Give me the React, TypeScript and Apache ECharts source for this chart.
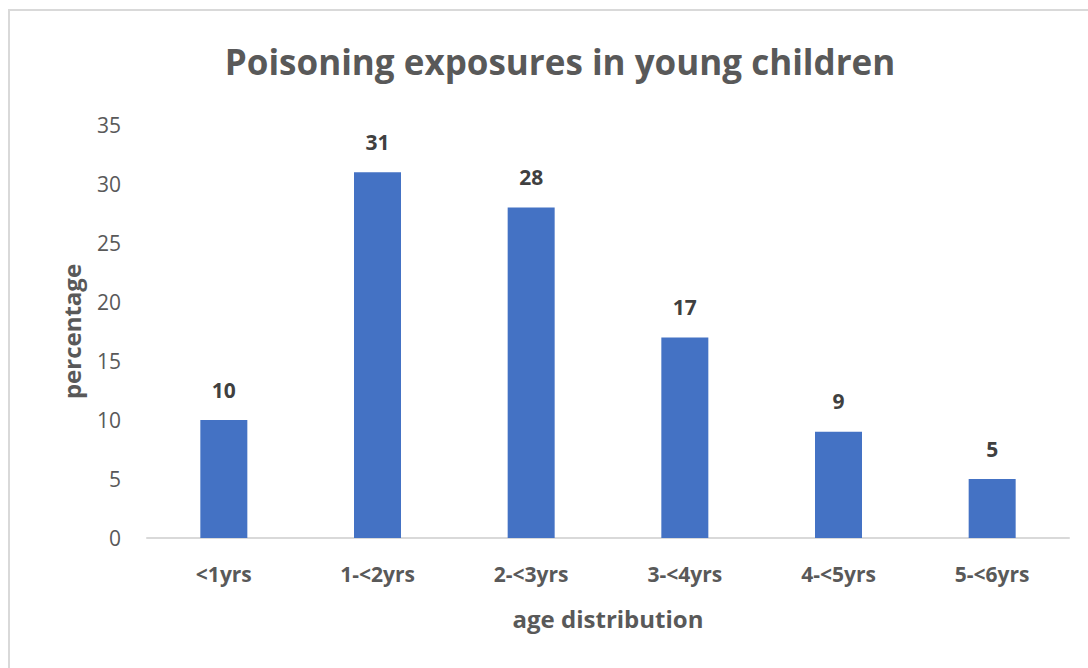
import React, { useEffect, useRef } from "react";
import * as echarts from "echarts";

const categories = ["<1yrs", "1-<2yrs", "2-<3yrs", "3-<4yrs", "4-<5yrs", "5-<6yrs"];
const percentages = [10, 31, 28, 17, 9, 5];
const yTicks = { min: 0, max: 35, interval: 5 };

const FONT = "'Open Sans', 'Noto Sans', sans-serif";

export default function App() {
  const ref = useRef<HTMLDivElement>(null);
  useEffect(() => {
    if (!ref.current) return;
    const chart = echarts.init(ref.current, null, { renderer: "svg" });
    chart.setOption({
      animation: false,
      backgroundColor: "#ffffff",
      title: {
        text: "Poisoning exposures in young children",
        left: 555,
        textAlign: "center",
        top: 39,
        textStyle: { fontFamily: FONT, fontSize: 35, fontWeight: "bold", color: "#595959" },
      },
      graphic: [
        {
          type: "rect",
          shape: { x: 9, y: 10, width: 1200, height: 800 },
          style: { fill: "none", stroke: "#d9d9d9", lineWidth: 2 },
          silent: true,
        },
      ],
      grid: { left: 147, right: 19, top: 125, bottom: 130, containLabel: false },
      xAxis: {
        type: "category",
        data: categories,
        name: "age distribution",
        nameLocation: "middle",
        nameGap: 68,
        nameTextStyle: { fontFamily: FONT, fontSize: 24, fontWeight: "bold", color: "#595959" },
        axisLine: { lineStyle: { color: "#d9d9d9", width: 2 } },
        axisTick: { show: false },
        axisLabel: { fontFamily: FONT, fontSize: 21, fontWeight: "bold", color: "#595959", margin: 25 },
      },
      yAxis: {
        type: "value",
        min: yTicks.min,
        max: yTicks.max,
        interval: yTicks.interval,
        name: "percentage",
        nameLocation: "middle",
        nameGap: 64,
        nameTextStyle: { fontFamily: FONT, fontSize: 24, fontWeight: "bold", color: "#595959" },
        splitLine: { show: false },
        axisLine: { show: false },
        axisTick: { show: false },
        axisLabel: { fontFamily: FONT, fontSize: 21, color: "#595959", margin: 26 },
      },
      series: [
        {
          type: "bar",
          data: percentages,
          barWidth: 47,
          itemStyle: { color: "#4472c4" },
          label: {
            show: true,
            position: "top",
            distance: 20,
            fontFamily: FONT,
            fontSize: 21,
            fontWeight: "bold",
            color: "#404040",
          },
        },
      ],
    });
    return () => chart.dispose();
  }, []);
  return (
    <div
      ref={ref}
      style={{ position: "absolute", left: 0, top: 0, width: 1088, height: 668 }}
    />
  );
}
